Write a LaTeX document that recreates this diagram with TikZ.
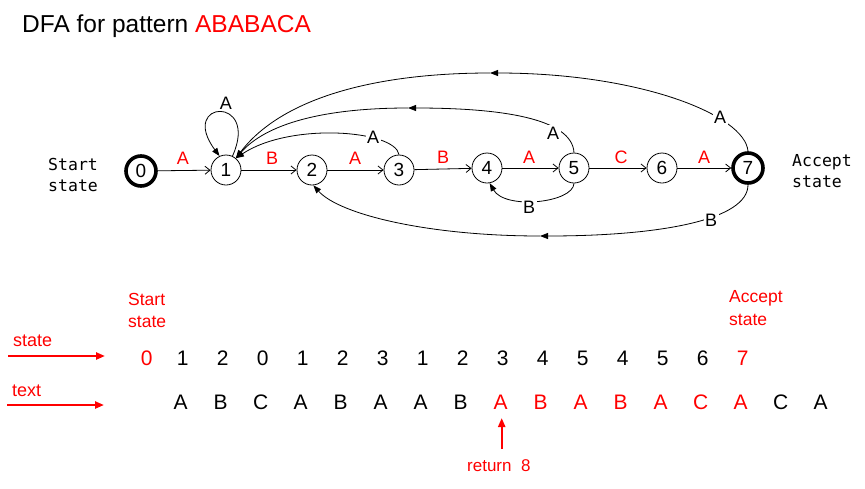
\documentclass[tikz,border=0pt]{standalone}
\usepackage{fontspec}
\setmainfont{Liberation Sans}
\newfontfamily\monof{DejaVu Sans Mono}
\usetikzlibrary{arrows.meta}
\definecolor{pred}{RGB}{255,0,0}
\begin{document}
\begin{tikzpicture}[x=1pt,y=-1pt,
  st/.style={circle,draw,line width=0.8pt,minimum size=30pt,inner sep=0pt,font=\fontsize{19}{19}\selectfont},
  acc/.style={st,line width=3.6pt,minimum size=30pt},
  fwd/.style={draw,line width=0.8pt,-{Straight Barb[length=5pt,width=8pt]}},
  bk/.style={draw,line width=0.8pt,-{Triangle[length=8pt,width=6pt]}},
  rl/.style={text=pred,font=\fontsize{18}{18}\selectfont,inner sep=1pt},
  bl/.style={fill=white,font=\fontsize{18}{18}\selectfont,inner sep=1.5pt},
  mono/.style={font=\monof\fontsize{16.5}{16.5}\selectfont,anchor=base west,inner sep=0pt},
  rtxt/.style={text=pred,font=\fontsize{17.5}{17.5}\selectfont,anchor=base west,inner sep=0pt},
  big/.style={font=\fontsize{21}{21}\selectfont,anchor=base,inner sep=0pt},
  bigr/.style={big,text=pred},
  rarr/.style={draw=pred,line width=2.2pt,-{Triangle[length=9pt,width=7pt]}}
]
\useasboundingbox (0,0) rectangle (865,488);

% title
\node[anchor=base west,inner sep=0pt,font=\fontsize{24.5}{24.5}\selectfont] (title) at (22,32) {DFA for pattern \textcolor{pred}{ABABACA}};

% states
\node[acc] (s0) at (141,171) {0};
\node[st] (s1) at (226,170) {1};
\node[st] (s2) at (312,170) {2};
\node[st] (s3) at (399,170) {3};
\node[st] (s4) at (487,168) {4};
\node[st] (s5) at (574,168) {5};
\node[st] (s6) at (662,168) {6};
\node[acc] (s7) at (748,168) {7};

\node[mono] (ss1) at (48,170) {Start};
\node[mono] (ss2) at (48,191.5) {state};
\node[mono] (as1) at (792,166) {Accept};
\node[mono] (as2) at (792,187.5) {state};

% forward edges
\draw[fwd] (s0) -- (s1);
\draw[fwd] (s1) -- (s2);
\draw[fwd] (s2) -- (s3);
\draw[fwd] (s3) -- (s4);
\draw[fwd] (s4) -- (s5);
\draw[fwd] (s5) -- (s6);
\draw[fwd] (s6) -- (s7);
\node[rl] (l01) at (183,158) {A};
\node[rl] (l12) at (272,158) {B};
\node[rl] (l23) at (355,158) {A};
\node[rl] (l34) at (443,157) {B};
\node[rl] (l45) at (529,157) {A};
\node[rl] (l56) at (621,157) {C};
\node[rl] (l67) at (704,157) {A};

% self loop
\draw[bk] (s1.65) .. controls (260,95) and (178,100) .. (s1.115);
\node[bl] (l11) at (226,103) {A};

% 3 -> 1
\draw[bk] (s3.north) .. controls (395,130) and (290,122) .. (s1.50);
\node[bl] (l31) at (373,137) {A};

% 5 -> 1
\coordinate (m51) at (408,108);
\draw[bk] (s5.north) .. controls (572,118) and (500,108) .. (m51);
\draw[bk] (m51) .. controls (320,108) and (265,125) .. (s1.50);
\node[bl] (l51) at (553,133) {A};

% 7 -> 1
\coordinate (m71) at (490,73);
\draw[bk] (s7.north) .. controls (745,115) and (640,73) .. (m71);
\draw[bk] (m71) .. controls (370,73) and (280,100) .. (s1.50);
\node[bl] (l71) at (720,117) {A};

% 5 -> 4
\draw[bk] (s5.south) .. controls (573,203) and (505,210) .. (s4.-80);
\node[bl] (l54) at (529,207) {B};

% 7 -> 2
\coordinate (m72) at (540,236);
\draw[bk] (s7.south) .. controls (748,220) and (660,236) .. (m72);
\draw[bk] (m72) .. controls (430,236) and (340,215) .. (s2.-85);
\node[bl] (l72) at (711,220) {B};

% lower part
\node[rtxt] (bs1) at (128,305) {Start};
\node[rtxt] (bs2) at (128,327) {state};
\node[rtxt] (ba1) at (729,302.5) {Accept};
\node[rtxt] (ba2) at (729,325) {state};

\node[rtxt,font=\fontsize{18}{18}\selectfont] (lst) at (13,346.5) {state};
\node[rtxt,font=\fontsize{18}{18}\selectfont] (ltx) at (12,396.5) {text};
\coordinate (ast0) at (8,356);
\coordinate (ast1) at (105,356);
\coordinate (atx0) at (7,405);
\coordinate (atx1) at (104,405);
\draw[rarr] (ast0) -- (ast1);
\draw[rarr] (atx0) -- (atx1);

% state row
\node[bigr] (q0) at (146.7,365) {0};
\foreach \d [count=\i] in {1,2,0,1,2,3,1,2,3,4,5,4,5,6}
  \node[big] (q\i) at (142.7+40*\i,365) {\d};
\node[bigr] (q15) at (742.7,365) {7};

% text row
\foreach \c [count=\j from 0] in {A,B,C,A,B,A,A,B}
  \node[big] (t\j) at (180.7+40*\j,409.3) {\c};
\foreach \c [count=\j from 8] in {A,B,A,B,A,C,A}
  \node[bigr] (t\j) at (180.7+40*\j,409.3) {\c};
\node[big] (t15) at (780.7,409.3) {C};
\node[big] (t16) at (820.7,409.3) {A};

% return arrow
\node[rtxt,font=\fontsize{17}{17}\selectfont] (ret) at (467,471.7) {return~~8};
\coordinate (rb) at (501.7,449);
\coordinate (rt) at (501.7,418);
\draw[rarr] (rb) -- (rt);
\end{tikzpicture}
\end{document}
